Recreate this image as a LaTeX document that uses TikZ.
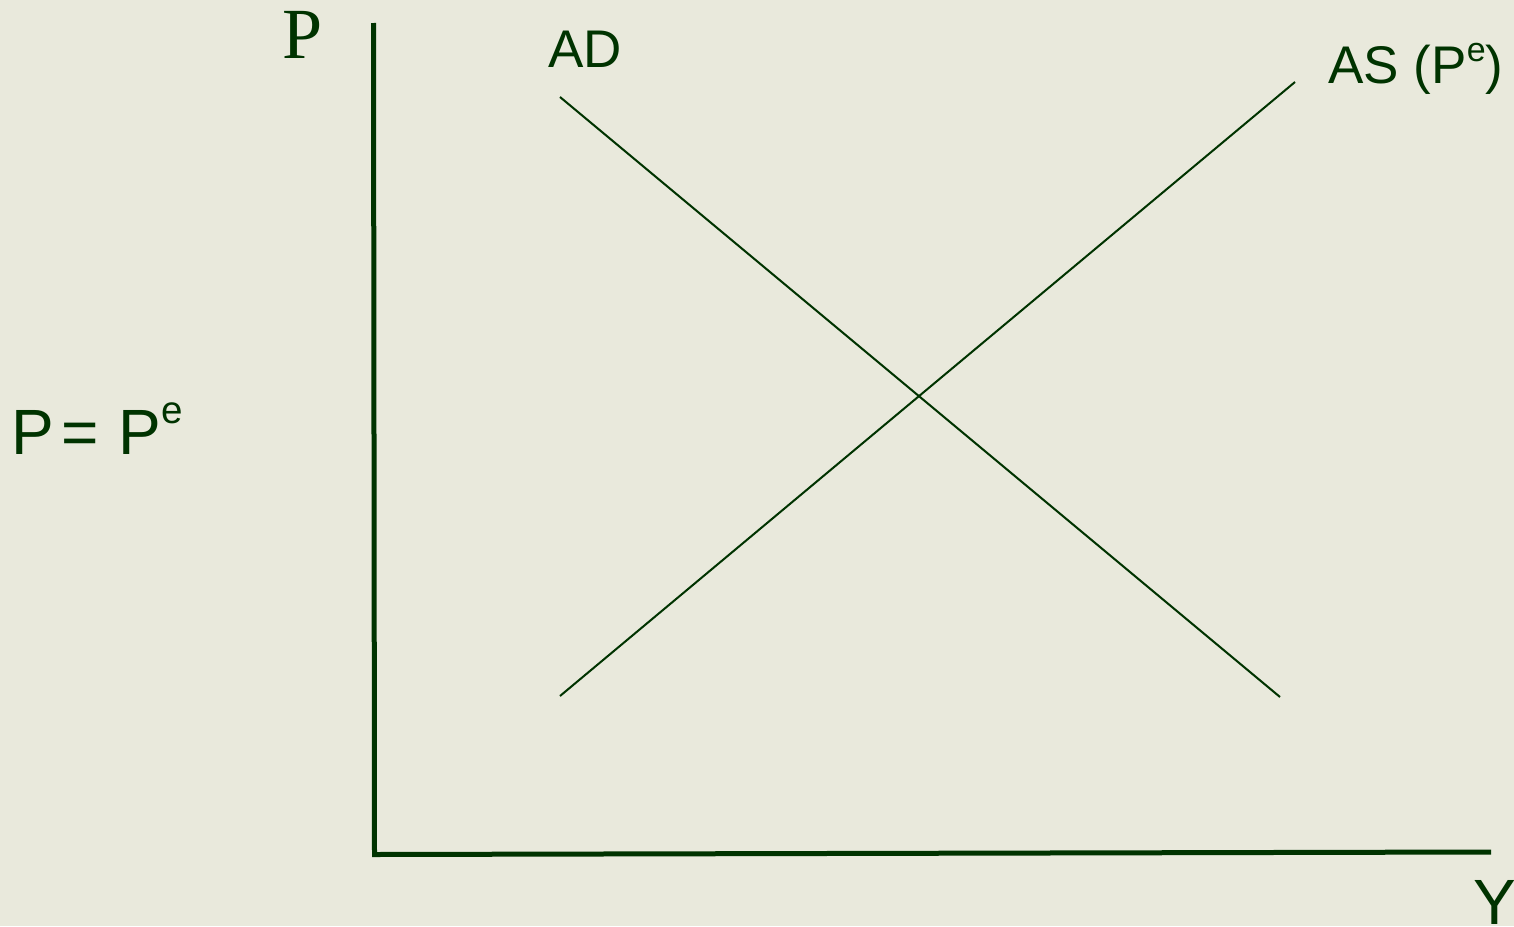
\documentclass[tikz,border=0pt]{standalone}
\usepackage{fontspec}
\setmainfont{Liberation Sans}
\newfontfamily\serifP{Liberation Serif}
\definecolor{bgc}{RGB}{233,233,220}
\definecolor{ink}{RGB}{0,51,0}
\begin{document}
\begin{tikzpicture}[x=0.5pt,y=-0.5pt,
  axisline/.style={draw=ink,line width=2.5pt},
  curveline/.style={draw=ink,line width=1pt},
  lbl/.style={text=ink,inner sep=0pt,anchor=base west}]
\fill[bgc] (0,0) rectangle (1514,926);
\useasboundingbox (0,0) rectangle (1514,926);
% axes
\coordinate (ytop) at (373.5,23);
\coordinate (origin) at (374.5,854);
\coordinate (xend) at (1491,852);
\draw[axisline] (ytop) -- (374.5,854.5) -- (xend);
% curves
\coordinate (adA) at (560,97);
\coordinate (adB) at (1280,697);
\coordinate (asA) at (560,696);
\coordinate (asB) at (1295,82);
\draw[curveline] (adA) -- (adB);
\draw[curveline] (asA) -- (asB);
% labels
\node[lbl,font=\serifP\fontsize{36pt}{40pt}\selectfont] (plab) at (282,58) {P};
\node[lbl,font=\fontsize{32pt}{36pt}\selectfont] (ylab) at (1473,924) {Y};
\node[lbl,font=\fontsize{32pt}{36pt}\selectfont] (peq) at (11,454)
  {P\hspace{3.7pt}=\hspace{9.8pt}P\raisebox{15.5pt}{\fontsize{19.3pt}{20pt}\selectfont e}};
\node[lbl,font=\fontsize{26.5pt}{30pt}\selectfont] (adlab) at (548,67) {AD};
\node[lbl,font=\fontsize{26.5pt}{30pt}\selectfont] (aslab) at (1328,83)
  {AS (P\raisebox{10.5pt}{\fontsize{17pt}{18pt}\selectfont e})};
\end{tikzpicture}
\end{document}
